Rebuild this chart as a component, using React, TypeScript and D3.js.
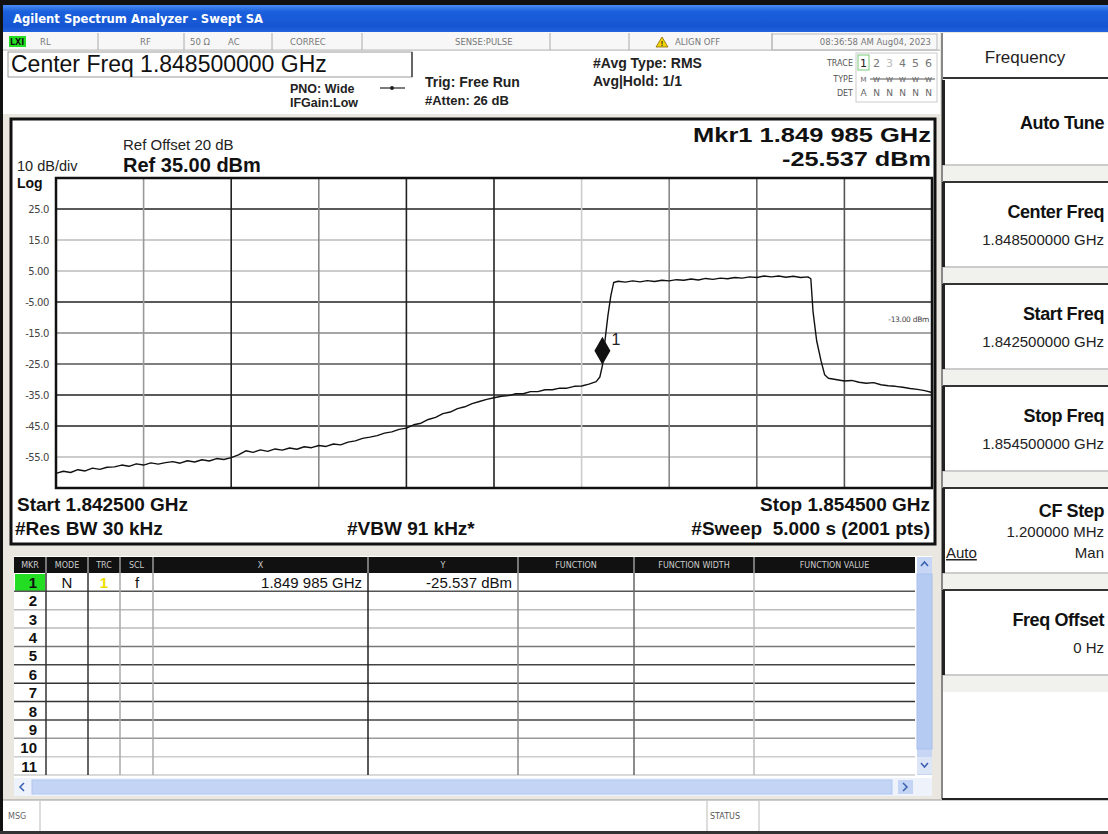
import * as d3 from "d3";

const FONT = "'Liberation Sans', Arial, sans-serif";
const SMALL = "'DejaVu Sans', sans-serif";

// sweep settings
const startMHz = 1842.5;
const stopMHz = 1854.5;
const refLevelDbm = 35;
const bottomLevelDbm = -65;

const yTickValues = [25, 15, 5, -5, -15, -25, -35, -45, -55];
const yTickLabels = ["25.0", "15.0", "5.00", "-5.00", "-15.0", "-25.0", "-35.0", "-45.0", "-55.0"];

// trace: [offset from start in MHz, level in dBm]
const lowerSkirt: [number, number][] = [
  [0.0, -60.3], [0.1, -59.6], [0.2, -60.0], [0.3, -59.1], [0.4, -59.5], [0.5, -58.6], [0.6, -59.0],
  [0.7, -58.3], [0.8, -58.2], [0.9, -57.6], [1.0, -58.0], [1.1, -57.2], [1.2, -57.6], [1.3, -56.9],
  [1.4, -57.3], [1.5, -56.8], [1.6, -56.5], [1.7, -57.0], [1.8, -56.2], [1.9, -56.6], [2.0, -55.9],
  [2.1, -56.3], [2.2, -55.5], [2.3, -55.8], [2.4, -55.2], [2.5, -54.3], [2.6, -53.0], [2.7, -53.5],
  [2.8, -52.7], [2.9, -53.2], [3.0, -52.4], [3.1, -52.8], [3.2, -52.1], [3.3, -52.5], [3.4, -51.7],
  [3.5, -52.0], [3.6, -51.3], [3.7, -51.6], [3.8, -50.8], [3.9, -51.1], [4.0, -50.2], [4.1, -49.8],
  [4.2, -49.0], [4.3, -48.6], [4.4, -48.1], [4.5, -47.3], [4.6, -46.9], [4.7, -46.1], [4.8, -45.7],
  [4.9, -44.6], [5.0, -44.1], [5.1, -42.9], [5.2, -42.2], [5.3, -41.0], [5.4, -40.5], [5.5, -39.4],
  [5.6, -38.8], [5.7, -37.8], [5.8, -37.1], [5.9, -36.4], [6.0, -35.9], [6.1, -35.4], [6.2, -35.2],
  [6.3, -34.6], [6.4, -34.6], [6.5, -33.9], [6.6, -33.9], [6.7, -33.3], [6.8, -33.3], [6.9, -32.8],
  [7.0, -32.8], [7.1, -32.2], [7.2, -32.1], [7.3, -31.5], [7.4, -30.7], [7.45, -29.2],
];
const risingEdge: [number, number][] = [
  [7.485, -25.5], [7.52, -17.5], [7.56, -9.5], [7.6, -3.0], [7.64, 1.3],
];
const channelTop: [number, number][] = [
  [7.7, 1.7], [7.8, 1.4], [7.9, 1.8], [8.0, 1.5], [8.1, 1.9], [8.2, 1.6], [8.3, 2.0], [8.4, 1.8],
  [8.5, 2.2], [8.6, 2.0], [8.7, 2.4], [8.8, 2.1], [8.9, 2.6], [9.0, 2.3], [9.1, 2.7], [9.2, 2.5],
  [9.3, 2.9], [9.4, 2.7], [9.5, 3.1], [9.6, 2.9], [9.7, 3.4], [9.8, 3.1], [9.9, 3.4], [10.0, 3.0],
  [10.1, 3.3], [10.2, 2.9], [10.3, 3.1], [10.34, 2.5],
];
const fallingEdge: [number, number][] = [
  [10.37, -8.0], [10.42, -17.5], [10.48, -24.0], [10.53, -28.5], [10.58, -29.6],
];
const upperSkirt: [number, number][] = [
  [10.7, -30.1], [10.8, -30.5], [10.9, -30.3], [11.0, -30.9], [11.1, -31.2], [11.2, -31.0],
  [11.3, -31.7], [11.4, -32.0], [11.5, -32.2], [11.6, -32.5], [11.7, -32.9], [11.8, -33.2],
  [11.9, -33.6], [12.0, -34.2],
];

const markerMHz = 1849.985;
const markerDbm = -25.537;
const displayLineLabel = "-13.00 dBm";

const tableHeaders = ["MKR", "MODE", "TRC", "SCL", "X", "Y", "FUNCTION", "FUNCTION WIDTH", "FUNCTION VALUE"];
const tableRows = ["1", "2", "3", "4", "5", "6", "7", "8", "9", "10", "11"];
const markerRow = ["N", "1", "f", "1.849 985 GHz", "-25.537 dBm"];

const softkeyTitles = ["Auto Tune", "Center Freq", "Start Freq", "Stop Freq", "CF Step", "Freq Offset"];
const softkeyValues = ["", "1.848500000 GHz", "1.842500000 GHz", "1.854500000 GHz", "1.200000 MHz", "0 Hz"];

// display styling (grid lines alias differently on the capture)
const hGridShade = ["#222", "#bbb", "#bbb", "#222", "#888", "#555", "#222", "#222", "#bbb"];
const vGridShade = ["#999", "#222", "#888", "#222", "#222", "#ccc", "#888", "#666", "#555"];
const rowLineShade = ["#555", "#bbb", "#bbb", "#777", "#444", "#333", "#333", "#444", "#999", "#ccc", "#ccc"];
const colEdges = [14, 46, 88, 120, 153, 368, 518, 634, 754, 915];
const colShade = ["#333", "#333", "#aaa", "#aaa", "#222", "#888", "#666", "#bbb"];

export default function App() {
  const W = 1108;
  const H = 834;
  const pl = 56, pr = 932, pt = 178, pb = 488;
  const x = d3.scaleLinear([startMHz, stopMHz], [pl, pr]);
  const y = d3.scaleLinear([bottomLevelDbm, refLevelDbm], [pb, pt]);
  const trace = [...lowerSkirt, ...risingEdge, ...channelTop, ...fallingEdge, ...upperSkirt];
  const line = d3.line<[number, number]>((d) => x(startMHz + d[0]), (d) => y(d[1]));
  const vDivs = d3.range(1, 10).map((i) => startMHz + (i * (stopMHz - startMHz)) / 10);
  const mx = x(markerMHz);
  const my = y(markerDbm);
  const rows = d3.scaleBand(tableRows, [573, 775]);
  const keyTop = d3.scaleBand(softkeyTitles.map((_, i) => String(i)), [80, 692]);

  return (
    <svg width={W} height={H} style={{ position: "absolute", left: 0, top: 0 }} fontFamily={FONT}>
      <defs>
        <linearGradient id="titleGrad" x1="0" y1="0" x2="0" y2="1">
          <stop offset="0" stopColor="#4a8cf5" />
          <stop offset="0.25" stopColor="#1a5fdc" />
          <stop offset="0.8" stopColor="#1655d2" />
          <stop offset="1" stopColor="#2464dc" />
        </linearGradient>
      </defs>
      <rect width={W} height={H} fill="#e9e7df" />
      <rect width={W} height={5} fill="#111" />
      <rect width={3} height={H} fill="#111" />
      <rect x={0} y={831} width={W} height={3} fill="#333" />

      {/* title bar */}
      <rect x={3} y={5} width={W - 3} height={27} fill="url(#titleGrad)" />
      <text x={13} y={23} fill="#fff" fontSize={12.5} fontWeight="bold" fontFamily="'DejaVu Sans', sans-serif" textLength={250} lengthAdjust="spacingAndGlyphs">
        Agilent Spectrum Analyzer - Swept SA
      </text>

      {/* status row */}
      <rect x={3} y={32} width={937} height={18} fill="#f7f7f7" />
      <line x1={3} x2={940} y1={50} y2={50} stroke="#bbb" />
      {[98, 184, 272, 362, 550, 629, 772].map((sx) => (
        <line key={sx} x1={sx} x2={sx} y1={33} y2={50} stroke="#aaa" />
      ))}
      <rect x={9} y={36} width={17} height={11} fill="#22dd22" />
      <text x={10} y={45} fontSize={8} fontWeight="bold" fill="#111" fontFamily={SMALL}>LXI</text>
      <g fontFamily={SMALL} fontSize={8.5} fill="#777">
        <text x={40} y={45}>RL</text>
        <text x={140} y={45}>RF</text>
        <text x={190} y={45}>50 Ω</text>
        <text x={228} y={45}>AC</text>
        <text x={290} y={45}>CORREC</text>
        <text x={455} y={45}>SENSE:PULSE</text>
        <text x={675} y={45}>ALIGN OFF</text>
        <text x={931} y={45} textAnchor="end">08:36:58 AM Aug04, 2023</text>
      </g>
      <polygon points="662,37 668,47 656,47" fill="#f2d200" stroke="#8a6a00" strokeWidth={0.8} />
      <text x={662} y={46} fontSize={7} fontWeight="bold" textAnchor="middle" fill="#222">!</text>
      <rect x={772} y={34} width={165} height={16} fill="none" stroke="#bbb" />

      {/* header area */}
      <rect x={3} y={51} width={937} height={63} fill="#fff" />
      <rect x={8} y={52} width={404} height={25} fill="#fff" stroke="#999" />
      <line x1={412} x2={412} y1={52} y2={77} stroke="#444" strokeWidth={1.5} />
      <text x={11} y={72} fontSize={23} fill="#111">Center Freq 1.848500000 GHz</text>
      <g fontWeight="bold" fill="#222">
        <text x={290} y={93} fontSize={12.5}>PNO: Wide</text>
        <text x={290} y={107} fontSize={12.5}>IFGain:Low</text>
        <text x={425} y={87} fontSize={14}>Trig: Free Run</text>
        <text x={425} y={105} fontSize={13}>#Atten: 26 dB</text>
        <text x={593} y={68} fontSize={14}>#Avg Type: RMS</text>
        <text x={593} y={86} fontSize={14}>Avg|Hold: 1/1</text>
      </g>
      <line x1={380} x2={405} y1={88} y2={88} stroke="#222" strokeWidth={1.2} />
      <circle cx={392} cy={88} r={2} fill="#222" />

      {/* trace info box */}
      <g fontFamily={SMALL} fontSize={8} fill="#555">
        <text x={853} y={66} textAnchor="end">TRACE</text>
        <text x={853} y={82} textAnchor="end">TYPE</text>
        <text x={853} y={96} textAnchor="end">DET</text>
      </g>
      <rect x={856} y={53} width={81} height={49} fill="none" stroke="#ccc" />
      <rect x={858} y={55} width={11} height={15} fill="none" stroke="#7c7" />
      {["1", "2", "3", "4", "5", "6"].map((t, i) => (
        <g key={t} fontFamily={SMALL} fill={i === 0 ? "#222" : i === 2 ? "#bbb" : "#777"}>
          <text x={863.5 + i * 13} y={67} fontSize={11} textAnchor="middle">{t}</text>
          <text x={863.5 + i * 13} y={82} fontSize={7} textAnchor="middle" fill="#666">{i === 0 ? "M" : "W"}</text>
          <text x={863.5 + i * 13} y={96} fontSize={9} textAnchor="middle" fill="#666">{i === 0 ? "A" : "N"}</text>
        </g>
      ))}
      <line x1={870} x2={935} y1={79} y2={79} stroke="#555" />

      {/* graph panel */}
      <rect x={11} y={119} width={924} height={425} fill="#fff" stroke="#111" strokeWidth={3} />
      <text x={123} y={150} fontSize={15} fill="#222">Ref Offset 20 dB</text>
      <text x={123} y={172} fontSize={20} fontWeight="bold" fill="#111">Ref 35.00 dBm</text>
      <text x={17} y={171} fontSize={14.5} fill="#222">10 dB/div</text>
      <text x={17} y={188} fontSize={14} fontWeight="bold" fill="#111">Log</text>
      <text x={931} y={142} fontSize={21} fontWeight="bold" textAnchor="end" fill="#111" textLength={238} lengthAdjust="spacingAndGlyphs">
        Mkr1 1.849 985 GHz
      </text>
      <text x={931} y={166} fontSize={21} fontWeight="bold" textAnchor="end" fill="#111" textLength={149} lengthAdjust="spacingAndGlyphs">
        -25.537 dBm
      </text>

      {/* grid */}
      {yTickValues.map((v, i) => (
        <line key={v} x1={pl} x2={pr} y1={y(v)} y2={y(v)} stroke={hGridShade[i]} strokeWidth={1.6} />
      ))}
      {vDivs.map((f, i) => (
        <line key={f} x1={x(f)} x2={x(f)} y1={pt} y2={pb} stroke={vGridShade[i]} strokeWidth={1.6} />
      ))}
      <rect x={pl} y={pt} width={pr - pl} height={pb - pt} fill="none" stroke="#111" strokeWidth={2.5} />
      <g fontFamily={SMALL} fontSize={10} fill="#444" textAnchor="end" letterSpacing={-0.4}>
        {yTickValues.map((v, i) => (
          <text key={v} x={49} y={y(v) + 3.5}>{yTickLabels[i]}</text>
        ))}
      </g>
      <text x={929} y={322} fontSize={7.5} fill="#444" textAnchor="end" fontFamily={SMALL} letterSpacing={-0.3}>
        {displayLineLabel}
      </text>

      {/* trace */}
      <path d={line(trace) ?? undefined} fill="none" stroke="#111" strokeWidth={1.4} strokeLinejoin="round" />
      <path d={`M${mx},${my - 29} L${mx + 8},${my - 15} L${mx},${my - 1} L${mx - 8},${my - 15} Z`} fill="#111" />
      <text x={mx + 9} y={my - 21} fontSize={16} fill="#222">1</text>

      <text x={17} y={511} fontSize={19} fontWeight="bold" fill="#111">Start 1.842500 GHz</text>
      <text x={15} y={535} fontSize={19} fontWeight="bold" fill="#111">#Res BW 30 kHz</text>
      <text x={347} y={535} fontSize={19} fontWeight="bold" fill="#111">#VBW 91 kHz*</text>
      <text x={930} y={511} fontSize={19} fontWeight="bold" fill="#111" textAnchor="end">Stop 1.854500 GHz</text>
      <text x={930} y={535} fontSize={19} fontWeight="bold" fill="#111" textAnchor="end" style={{ whiteSpace: "pre" }}>
        #Sweep  5.000 s (2001 pts)
      </text>

      {/* marker table */}
      <rect x={14} y={556} width={918} height={240} fill="#fff" />
      <rect x={14} y={557} width={901} height={16} fill="#111" />
      {colEdges.slice(1, -1).map((cx) => (
        <line key={cx} x1={cx} x2={cx} y1={557} y2={573} stroke="#999" strokeWidth={1.5} />
      ))}
      <g fontFamily={SMALL} fontSize={8} fill="#ccc" textAnchor="middle">
        {tableHeaders.map((h, i) => (
          <text key={h} x={(colEdges[i] + colEdges[i + 1]) / 2} y={568}>{h}</text>
        ))}
      </g>
      <rect x={15} y={574} width={30} height={rows.bandwidth() - 1} fill="#22dd22" />
      {tableRows.map((r, i) => (
        <g key={r}>
          <line x1={14} x2={915} y1={(rows(r) ?? 0) + rows.bandwidth()} y2={(rows(r) ?? 0) + rows.bandwidth()} stroke={rowLineShade[i]} strokeWidth={1.5} />
          <text x={37} y={(rows(r) ?? 0) + 15} fontSize={15} fontWeight="bold" fill="#111" textAnchor="end">{r}</text>
        </g>
      ))}
      {colEdges.slice(1, -1).map((cx, i) => (
        <line key={cx} x1={cx} x2={cx} y1={573} y2={775} stroke={colShade[i]} strokeWidth={1.5} />
      ))}
      <g fontSize={15} fill="#111">
        <text x={67} y={588} textAnchor="middle">{markerRow[0]}</text>
        <text x={104} y={588} textAnchor="middle" fill="#eedd00" fontWeight="bold">{markerRow[1]}</text>
        <text x={137} y={588} textAnchor="middle">{markerRow[2]}</text>
        <text x={362} y={588} textAnchor="end">{markerRow[3]}</text>
        <text x={512} y={588} textAnchor="end">{markerRow[4]}</text>
      </g>
      {/* scrollbars */}
      <rect x={917} y={557} width={15} height={218} fill="#c6d6f4" />
      <rect x={917} y={574} width={15} height={175} fill="#b6cbf2" stroke="#a9c0ec" />
      <rect x={917} y={757} width={15} height={17} fill="#dde6f7" />
      <path d="M921,566 L924.5,562 L928,566" fill="none" stroke="#3a5fb0" strokeWidth={1.5} />
      <path d="M921,763 L924.5,767 L928,763" fill="none" stroke="#3a5fb0" strokeWidth={1.5} />
      <rect x={14} y={778} width={918} height={18} fill="#eef2fa" />
      <rect x={32} y={780} width={860} height={14} fill="#c3d4f5" stroke="#b0c6ef" />
      <path d="M24,783 L20,787 L24,791" fill="none" stroke="#3a5fb0" strokeWidth={1.5} />
      <rect x={898} y={780} width={15} height={14} fill="#c3d4f5" />
      <path d="M903,783 L907,787 L903,791" fill="none" stroke="#3a5fb0" strokeWidth={1.5} />

      {/* message row */}
      <rect x={3} y={800} width={W - 3} height={31} fill="#fff" />
      <line x1={3} x2={W} y1={800} y2={800} stroke="#999" />
      {[40, 707, 759].map((sx) => (
        <line key={sx} x1={sx} x2={sx} y1={801} y2={831} stroke="#bbb" />
      ))}
      <text x={8} y={819} fontFamily={SMALL} fontSize={8} fill="#666">MSG</text>
      <text x={710} y={819} fontFamily={SMALL} fontSize={8} fill="#555">STATUS</text>

      {/* softkey panel */}
      <rect x={942} y={33} width={166} height={766} fill="#fff" />
      <line x1={942} x2={942} y1={33} y2={799} stroke="#888" strokeWidth={2} />
      <line x1={942} x2={W} y1={799} y2={799} stroke="#222" strokeWidth={2} />
      <text x={1025} y={63} fontSize={17} textAnchor="middle" fill="#222">Frequency</text>
      <line x1={943} x2={W} y1={78} y2={78} stroke="#333" strokeWidth={2} />
      {softkeyTitles.map((t, i) => {
        const top = keyTop(String(i)) ?? 0;
        const h = 85;
        const hasValue = softkeyValues[i] !== "";
        const isStep = t === "CF Step";
        return (
          <g key={t}>
            <rect x={943} y={top + h} width={165} height={keyTop.bandwidth() - h} fill="#f1f1ee" />
            <line x1={943} x2={W} y1={top + h} y2={top + h} stroke="#ccc" strokeWidth={2} />
            {i > 0 && <line x1={943} x2={W} y1={top} y2={top} stroke="#333" strokeWidth={2} />}
            <line x1={943.5} x2={943.5} y1={top} y2={top + h} stroke="#222" strokeWidth={3} />
            <text x={1104} y={top + (isStep ? 29 : hasValue ? 36 : 49)} fontSize={18} fontWeight="bold" textAnchor="end" fill="#111" letterSpacing={-0.4}>
              {t}
            </text>
            {hasValue && (
              <text x={1104} y={top + (isStep ? 49 : 63)} fontSize={15} textAnchor="end" fill="#222">
                {softkeyValues[i]}
              </text>
            )}
            {isStep && (
              <g fontSize={15} fill="#222">
                <text x={946} y={top + 70} textDecoration="underline">Auto</text>
                <text x={1104} y={top + 70} textAnchor="end">Man</text>
              </g>
            )}
          </g>
        );
      })}
    </svg>
  );
}
